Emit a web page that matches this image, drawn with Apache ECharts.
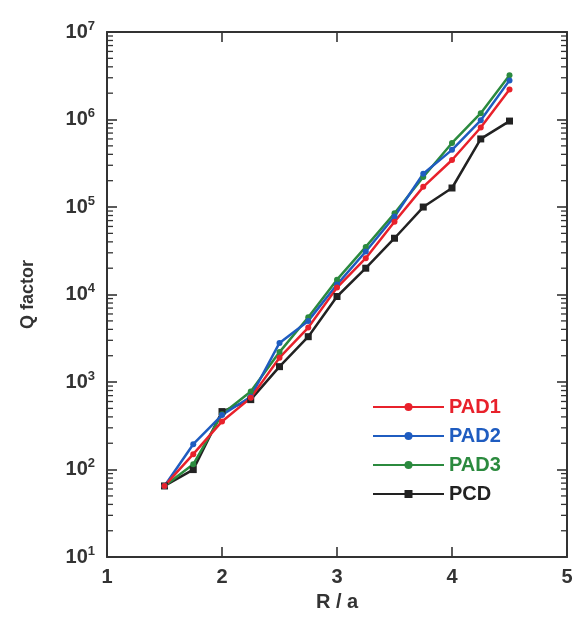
<!DOCTYPE html>
<html>
<head>
<meta charset="utf-8">
<script src="https://cdn.jsdelivr.net/npm/echarts@6/dist/echarts.min.js"></script>
<style>
  html, body { margin: 0; padding: 0; background: #fff; }
  #chart-container { width: 584px; height: 617px; }
</style>
</head>
<body>
<div id="chart-container"></div>
<script>
// R / a values
var ratios = [1.5, 1.75, 2, 2.25, 2.5, 2.75, 3, 3.25, 3.5, 3.75, 4, 4.25, 4.5];
// Q factor
var pad1 = [65, 150, 355, 660, 1900, 4200, 12000, 26000, 68000, 170000, 345000, 810000, 2200000];
var pad2 = [65, 195, 420, 680, 2800, 5000, 13000, 31000, 78000, 240000, 450000, 980000, 2800000];
var pad3 = [65, 115, 430, 780, 2200, 5500, 14800, 35000, 85000, 220000, 540000, 1180000, 3200000];
var pcd  = [65, 100, 460, 630, 1500, 3300, 9500, 20000, 44000, 100000, 165000, 600000, 960000];
var xTicks = [1, 2, 3, 4, 5];
var minorMults = [2, 3, 4, 5, 6, 7, 8, 9];

var FONT = 'Liberation Sans';
var TXT = '#333';

var pair = function (ys) {
    var out = [];
    ys.forEach(function (v, i) { out.push([ratios[i], v]); });
    return out;
};

var lineSeries = function (name, color, ys, symbol) {
    return {
        name: name,
        type: 'line',
        data: pair(ys),
        symbol: symbol,
        symbolSize: symbol === 'rect' ? 7 : 6,
        lineStyle: { color: color, width: 2.5 },
        itemStyle: { color: color },
        emphasis: { disabled: true },
        animation: false
    };
};

var myChart = echarts.init(document.getElementById('chart-container'));

var tickStyle = {
    axisLine: { lineStyle: { color: '#333', width: 2 } },
    axisTick: { show: true, inside: true, length: 10, lineStyle: { color: '#333', width: 1.6 } }
};

var option = {
    backgroundColor: '#fff',
    animation: false,
    grid: { left: 107, right: 17, top: 32, bottom: 59 },
    legend: {
        orient: 'vertical',
        left: 372,
        top: 397,
        padding: 0,
        itemWidth: 71,
        itemHeight: 10,
        itemGap: 9,
        textStyle: { fontFamily: FONT, fontWeight: 'bold', fontSize: 20 },
        data: [
            { name: 'PAD1', textStyle: { color: '#e8212b' } },
            { name: 'PAD2', textStyle: { color: '#1f5cc0' } },
            { name: 'PAD3', textStyle: { color: '#2b8a3e' } },
            { name: 'PCD', textStyle: { color: '#222' } }
        ]
    },
    xAxis: [Object.assign({
        type: 'value',
        min: 1, max: 5, interval: 1,
        name: 'R / a',
        nameLocation: 'middle',
        nameGap: 34,
        nameTextStyle: { fontFamily: FONT, fontWeight: 'bold', fontSize: 20, color: TXT },
        axisLabel: { fontFamily: FONT, fontWeight: 'bold', fontSize: 20, color: TXT, margin: 10 },
        splitLine: { show: false }
    }, tickStyle), Object.assign({
        type: 'value',
        position: 'top',
        min: 1, max: 5, interval: 1,
        axisLabel: { show: false },
        splitLine: { show: false }
    }, tickStyle)],
    yAxis: [Object.assign({
        type: 'log',
        logBase: 10,
        min: 10, max: 1e7,
        name: 'Q factor',
        nameLocation: 'middle',
        nameGap: 70,
        nameTextStyle: { fontFamily: FONT, fontWeight: 'bold', fontSize: 18, color: TXT },
        axisLabel: {
            margin: 12,
            formatter: function (v) {
                return '{b|10}{s|' + Math.round(Math.log10(v)) + '}';
            },
            rich: {
                b: { fontFamily: FONT, fontWeight: 'bold', fontSize: 20, color: TXT },
                s: { fontFamily: FONT, fontWeight: 'bold', fontSize: 13, color: TXT, verticalAlign: 'bottom', padding: [0, 0, 12, 0] }
            }
        },
        splitLine: { show: false }
    }, tickStyle), Object.assign({
        type: 'log',
        logBase: 10,
        min: 10, max: 1e7,
        position: 'right',
        axisLabel: { show: false },
        splitLine: { show: false }
    }, tickStyle)],
    series: [
        lineSeries('PCD', '#222', pcd, 'rect'),
        lineSeries('PAD3', '#2b8a3e', pad3, 'circle'),
        lineSeries('PAD2', '#1f5cc0', pad2, 'circle'),
        lineSeries('PAD1', '#e8212b', pad1, 'circle')
    ]
};

myChart.setOption(option);

// minor log ticks (2..9 x 10^k) placed through the chart's own y scale
var minorTicks = [];
for (var k = 1; k < 7; k++) {
    minorMults.forEach(function (m) {
        var v = m * Math.pow(10, k);
        var l = myChart.convertToPixel({ gridIndex: 0 }, [1, v]);
        var r = myChart.convertToPixel({ gridIndex: 0 }, [5, v]);
        var st = { stroke: '#333', lineWidth: 1.3 };
        minorTicks.push({ type: 'line', silent: true, z: 5, shape: { x1: l[0], y1: l[1], x2: l[0] + 6, y2: l[1] }, style: st });
        minorTicks.push({ type: 'line', silent: true, z: 5, shape: { x1: r[0], y1: r[1], x2: r[0] - 6, y2: r[1] }, style: st });
    });
}
myChart.setOption({ graphic: minorTicks });
</script>
</body>
</html>
